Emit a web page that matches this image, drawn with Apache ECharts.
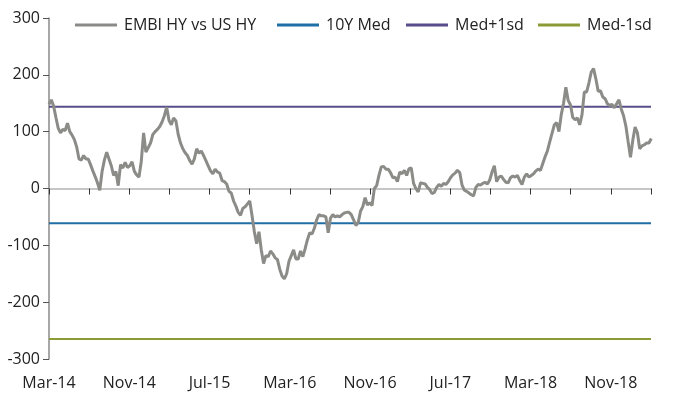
<!DOCTYPE html>
<html>
<head>
<meta charset="utf-8">
<script src="https://cdn.jsdelivr.net/npm/echarts@6/dist/echarts.min.js"></script>
<style>
html,body{margin:0;padding:0;background:#fff;}
#chart{width:680px;height:396px;}
</style>
</head>
<body>
<div id="chart"></div>
<script>
// Weekly observations starting the first week of March 2014
const startLabel = 'Mar-14';
const weeksPerMonth = 30.4375 / 7;
const spreadValues = [
148,156,145,125,106,98,104,102,115,100,94,86,73,52,50,58,52,52,42,31,
21,10,-3,30,50,64,52,40,23,30,5,42,36,46,37,40,47,30,24,20,
48,98,64,72,80,95,100,104,109,117,128,143,120,112,124,119,95,80,70,63,
58,49,43,52,70,62,66,58,49,40,31,26,34,29,27,14,12,8,-5,-8,
-22,-31,-42,-47,-35,-32,-27,-22,-48,-76,-97,-76,-108,-132,-118,-120,-110,-115,-122,-125,
-142,-154,-159,-150,-128,-118,-108,-124,-124,-110,-120,-106,-90,-78,-80,-70,-55,-46,-48,-48,
-50,-78,-52,-46,-50,-48,-50,-46,-43,-42,-42,-46,-55,-65,-60,-40,-32,-16,-29,-25,
-30,0,5,23,38,39,34,34,28,19,20,12,29,26,32,23,35,36,9,0,
-6,10,9,8,2,-2,-9,-7,2,7,4,9,7,12,19,24,27,32,28,6,
-3,-5,-8,-11,-13,2,7,6,9,11,8,15,29,40,12,20,22,16,11,10,
19,22,20,23,14,7,20,26,20,23,26,31,34,32,44,56,66,82,97,112,
116,100,130,150,178,155,147,125,121,124,112,130,170,170,186,205,211,193,171,172,
161,158,149,146,148,142,149,156,140,128,110,82,55,85,108,98,70,75,77,80,
80,88
];
const medValue = -61;
const medPlusValue = 144;
const medMinusValue = -265;
const monthNames = ['Jan','Feb','Mar','Apr','May','Jun','Jul','Aug','Sep','Oct','Nov','Dec'];
const yTicks = [-300,-200,-100,0,100,200,300];
const seriesNames = ['EMBI HY vs US HY','10Y Med','Med+1sd','Med-1sd'];
const seriesColors = ['#8b8b87','#1f6ea5','#594c8a','#8c9b36'];

const X_MAX = 60; // months from Mar-14 to Mar-19

function monthLabel(m){
  const idx = 2 + m; // March = index 2
  const y = 14 + Math.floor(idx / 12);
  return monthNames[idx % 12] + '-' + y;
}

const mainData = spreadValues.map((v,i)=>[i / weeksPerMonth, v]);
const flat = v => [[0, v],[X_MAX, v]];

const FONT = '"Open Sans", sans-serif';
const chart = echarts.init(document.getElementById('chart'), null, {renderer:'canvas'});

function legendAt(left, name){
  return {
    show:true, left:left, top:12, data:[name],
    icon:'rect', itemWidth:42, itemHeight:3, itemGap:0,
    textStyle:{fontFamily:FONT, fontSize:16, color:'#222', padding:[0,0,0,2]},
    selectedMode:false
  };
}

chart.setOption({
  animation:false,
  backgroundColor:'#ffffff',
  grid:{left:49, right:29, top:18, bottom:37, containLabel:false},
  legend:[
    legendAt(70, seriesNames[0]),
    legendAt(272, seriesNames[1]),
    legendAt(401, seriesNames[2]),
    legendAt(533, seriesNames[3])
  ],
  xAxis:[
    {
      type:'value', min:0, max:X_MAX, interval:4,
      axisLine:{show:true, onZero:true, lineStyle:{color:'#b4b4b4', width:1.5}},
      axisTick:{show:true, length:6, lineStyle:{color:'#333', width:1}},
      axisLabel:{show:false},
      splitLine:{show:false}
    },
    {
      type:'value', min:0, max:X_MAX, interval:4, position:'bottom',
      axisLine:{show:false, onZero:false},
      axisTick:{show:false},
      axisLabel:{
        show:true, margin:16, fontFamily:FONT, fontSize:16, color:'#222',
        formatter:function(v){ return (v % 8 === 0) ? monthLabel(v) : ''; }
      },
      splitLine:{show:false}
    }
  ],
  yAxis:{
    type:'value', min:-300, max:300, interval:100,
    axisLine:{show:true, lineStyle:{color:'#8a8a8a', width:1.5}},
    axisTick:{show:true, length:6, lineStyle:{color:'#555', width:1}},
    axisLabel:{margin:9, fontFamily:FONT, fontSize:16, color:'#222',
      formatter:function(v){ return yTicks.indexOf(v) >= 0 ? String(v) : ''; }},
    splitLine:{show:false}
  },
  series:[
    {name:seriesNames[0], type:'line', xAxisIndex:0, data:mainData, showSymbol:false, symbol:'none',
     lineStyle:{color:seriesColors[0], width:3}, itemStyle:{color:seriesColors[0]}, z:5},
    {name:seriesNames[1], type:'line', xAxisIndex:0, data:flat(medValue), showSymbol:false, symbol:'none',
     lineStyle:{color:seriesColors[1], width:2}, itemStyle:{color:seriesColors[1]}, z:3},
    {name:seriesNames[2], type:'line', xAxisIndex:0, data:flat(medPlusValue), showSymbol:false, symbol:'none',
     lineStyle:{color:seriesColors[2], width:2}, itemStyle:{color:seriesColors[2]}, z:3},
    {name:seriesNames[3], type:'line', xAxisIndex:0, data:flat(medMinusValue), showSymbol:false, symbol:'none',
     lineStyle:{color:seriesColors[3], width:2}, itemStyle:{color:seriesColors[3]}, z:3}
  ]
});
</script>
</body>
</html>
